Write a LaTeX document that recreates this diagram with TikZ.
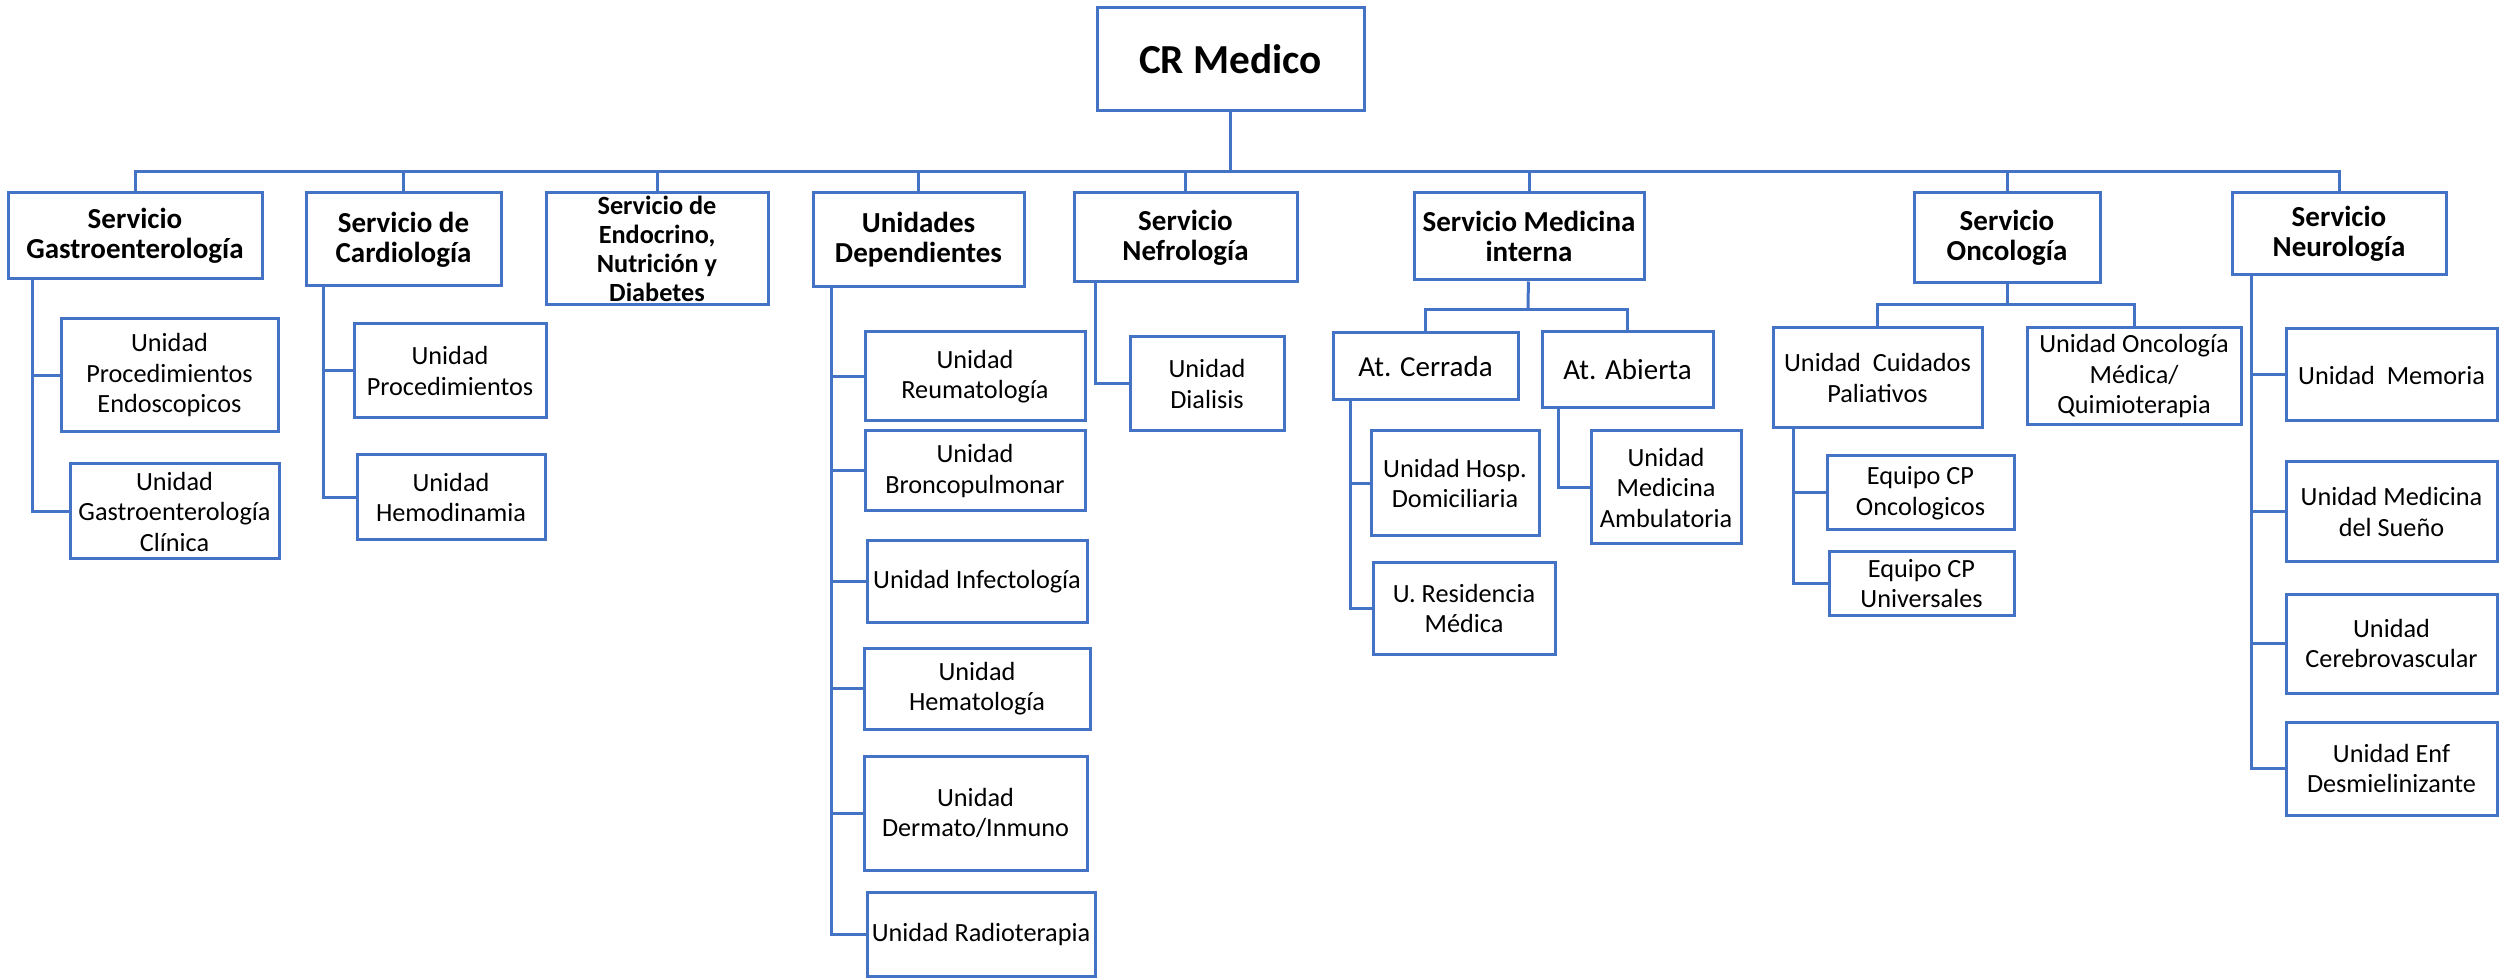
\documentclass[tikz,border=0pt]{standalone}
\usepackage{fontspec}
\setmainfont{Carlito}
\definecolor{lineblue}{HTML}{4472C4}
\tikzset{
  box/.style={draw=lineblue, line width=1.2pt, align=center, inner sep=0pt,
    font=\fontsize{10.5}{12.2}\selectfont},
  svc/.style={box, font=\bfseries\fontsize{11.6}{12}\selectfont},
  att/.style={box, font=\fontsize{11.6}{13}\selectfont},
  boxsize/.style 2 args={minimum width=#1*0.4pt, minimum height=#2*0.4pt},
  link/.style={draw=lineblue, line width=1.2pt}
}

\begin{document}
\begin{tikzpicture}[x=0.4pt,y=-0.4pt]
  \useasboundingbox (0,0) rectangle (2499,978);

  % direccion
  \node[box, font=\bfseries\fontsize{16.5}{20}\selectfont, boxsize={267}{103}] (root) at (1230.5,59.5) {CR Medico};
  \coordinate (bus) at (1230.5,172);

  % servicios
  \node[svc, boxsize={254}{86}]  (gastro) at (135,236)    {Servicio\\Gastroenterología};
  \node[svc, boxsize={195}{93}]  (cardio) at (403.5,239.5) {Servicio de\\Cardiología};
  \node[svc, font=\bfseries\fontsize{10.5}{11.6}\selectfont, boxsize={222}{112}]
                                 (endo)   at (657,249)    {Servicio de\\Endocrino,\\Nutrición y\\Diabetes};
  \node[svc, boxsize={211}{94}]  (udep)   at (918.5,240)  {Unidades\\Dependientes};
  \node[svc, boxsize={223}{89}]  (nefro)  at (1185.5,237.5) {Servicio\\Nefrología};
  \node[svc, boxsize={230}{87}]  (medint) at (1529,236.5) {Servicio Medicina\\interna};
  \node[svc, boxsize={186}{90}]  (onco)   at (2007,238)   {Servicio\\Oncología};
  \node[svc, boxsize={214}{82}]  (neuro)  at (2339,234)   {Servicio\\Neurología};

  % unidades
  \node[box, boxsize={217}{113}] (endosc)  at (169.5,375.5) {Unidad\\Procedimientos\\Endoscopicos};
  \node[box, boxsize={209}{95}]  (gclin)   at (174.5,511.5) {Unidad\\Gastroenterología\\Clínica};
  \node[box, boxsize={192}{94}]  (cproc)   at (450,371)     {Unidad\\Procedimientos};
  \node[box, boxsize={188}{85}]  (hemo)    at (451,497.5)   {Unidad\\Hemodinamia};

  \node[box, boxsize={220}{89}]  (reuma)   at (975,376.5)   {Unidad\\Reumatología};
  \node[box, boxsize={220}{80}]  (bronco)  at (975,471)     {Unidad\\Broncopulmonar};
  \node[box, boxsize={220}{81}]  (infect)  at (977,581.5)   {Unidad Infectología};
  \node[box, boxsize={226}{81}]  (hemat)   at (977,688.5)   {Unidad\\Hematología};
  \node[box, boxsize={223}{114}] (dermato) at (975.5,813)   {Unidad\\Dermato/Inmuno};
  \node[box, boxsize={228}{84}]  (radio)   at (981,934)     {Unidad Radioterapia};

  \node[box, boxsize={154}{94}]  (dialisis) at (1207,384)   {Unidad\\Dialisis};

  \node[att, boxsize={185}{67}]  (cerrada) at (1425.5,366.5) {At. Cerrada};
  \node[att, boxsize={171}{76}]  (abierta) at (1627.5,370)   {At. Abierta};
  \coordinate (mibus) at (1528,310);
  \node[box, boxsize={168}{105}] (hosp)    at (1455,483.5)  {Unidad Hosp.\\Domiciliaria};
  \node[box, boxsize={182}{91}]  (resid)   at (1464,608.5)  {U. Residencia\\Médica};
  \node[box, boxsize={150}{113}] (ambul)   at (1666,487.5)  {Unidad\\Medicina\\Ambulatoria};

  \node[box, boxsize={209}{100}] (palia)   at (1877.5,378)  {Unidad\ \ Cuidados\\Paliativos};
  \node[box, boxsize={214}{97}]  (quimio)  at (2134,376.5)  {Unidad Oncología\\Médica/\\Quimioterapia};
  \coordinate (oncbus) at (2007,305);
  \node[box, boxsize={187}{74}]  (cponc)   at (1920.5,493)  {Equipo CP\\Oncologicos};
  \node[box, boxsize={185}{63}]  (cpuni)   at (1921.5,583.5) {Equipo CP\\Universales};

  \node[box, boxsize={211}{92}]  (memoria) at (2391.5,375)   {Unidad\ \ Memoria};
  \node[box, boxsize={211}{100}] (sueno)   at (2391.5,512)   {Unidad Medicina\\del Sueño};
  \node[box, boxsize={211}{99}]  (cerebro) at (2391.5,643.5) {Unidad\\Cerebrovascular};
  \node[box, boxsize={211}{93}]  (desmiel) at (2391.5,768.5) {Unidad Enf\\Desmielinizante};

  % lineas
  \draw[link] (root) -- (bus);
  \draw[link] (gastro.north) |- (bus) -| (neuro.north);
  \foreach \n in {cardio,endo,udep,nefro,medint,onco}
    \draw[link] (\n.north) -- (\n.north |- bus);

  \draw[link] (medint) -- (mibus);
  \draw[link] (cerrada.north) |- (mibus) -| (abierta.north);
  \draw[link] (onco) -- (oncbus);
  \draw[link] (palia.north) |- (oncbus) -| (quimio.north);

  \foreach \p/\d/\c in {gastro/26/endosc, gastro/26/gclin, cardio/19/cproc, cardio/19/hemo,
      udep/20/reuma, udep/20/bronco, udep/20/infect, udep/20/hemat, udep/20/dermato, udep/20/radio,
      nefro/23/dialisis, cerrada/19/hosp, cerrada/19/resid, abierta/18/ambul,
      palia/22/cponc, palia/22/cpuni,
      neuro/21/memoria, neuro/21/sueno, neuro/21/cerebro, neuro/21/desmiel}
    \draw[link] ([xshift=\d*0.4pt]\p.south west) |- (\c.west);
\end{tikzpicture}
\end{document}
